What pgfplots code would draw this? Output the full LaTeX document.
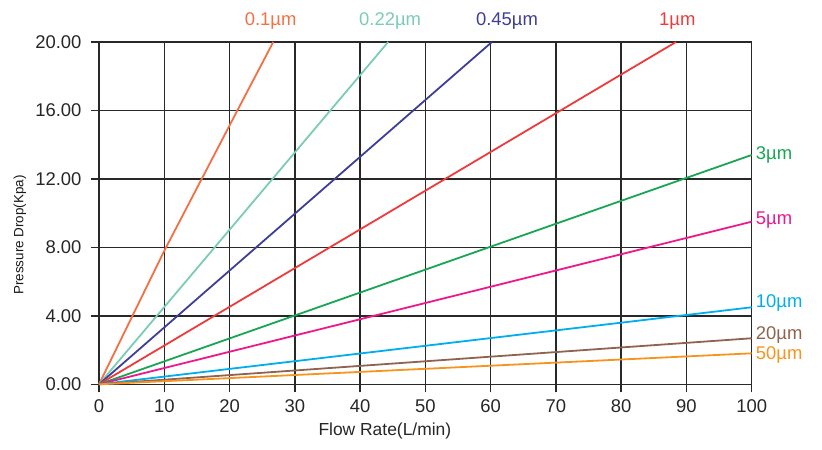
\documentclass[border=0pt]{standalone}
\usepackage{pgfplots}
\pgfplotsset{compat=1.18}
\usepackage{fontspec}
\setmainfont{Liberation Sans}

\definecolor{c01}{RGB}{244,112,68}
\definecolor{c022}{RGB}{122,204,182}
\definecolor{c045}{RGB}{62,62,152}
\definecolor{c1}{RGB}{238,58,58}
\definecolor{c3}{RGB}{24,166,82}
\definecolor{c5}{RGB}{236,24,142}
\definecolor{c10}{RGB}{0,174,239}
\definecolor{c20}{RGB}{142,100,80}
\definecolor{c50}{RGB}{247,148,29}
\definecolor{gridc}{RGB}{40,40,40}

\begin{document}
\begin{tikzpicture}
\begin{axis}[
  scale only axis,
  width=652.7bp, height=342.3bp,
  xmin=0, xmax=100, ymin=0, ymax=20,
  xtick={0,10,...,100},
  ytick={0,4,8,12,16,20},
  grid=major,
  grid style={gridc, line width=1.5bp},
  axis line style={gridc, line width=1.5bp},
  tick style={gridc, line width=1.5bp},
  tick align=outside,
  major tick length=8bp,
  xtick pos=bottom, ytick pos=left,
  /pgf/number format/assume math mode=true,
  yticklabel style={/pgf/number format/fixed, /pgf/number format/fixed zerofill,
    /pgf/number format/precision=2, xshift=-6bp},
  ticklabel style={font=\fontsize{18.5}{18.5}\selectfont, text=black!85},
  xticklabel style={yshift=-4bp},
  xlabel={Flow Rate(L/min)},
  ylabel={Pressure Drop(Kpa)},
  xlabel style={font=\fontsize{17.5}{17.5}\selectfont, text=black!85,
    at={(axis description cs:0.438,0)}, anchor=north, yshift=-35bp},
  ylabel style={font=\fontsize{13.5}{13.5}\selectfont, text=black!90,
    at={(axis description cs:-0.121,0.436)}, anchor=center},
  every axis plot/.append style={line width=1.8bp},
  clip=false,
]
\addplot[c01] coordinates {(0,0) (10,7.8) (21.2,16) (26.7,20)};
\addplot[c022] coordinates {(0,0) (44.3,20)};
\addplot[c045] coordinates {(0,0) (60.2,20)};
\addplot[c1] coordinates {(0,0) (88.4,20)};
\addplot[c3] coordinates {(0,0) (100,13.4)};
\addplot[c5] coordinates {(0,0) (100,9.5)};
\addplot[c10] coordinates {(0,0) (100,4.5)};
\addplot[c20] coordinates {(0,0) (100,2.69)};
\addplot[c50] coordinates {(0,0) (100,1.81)};

\begin{scope}[every node/.style={font=\fontsize{18.5}{18.5}\selectfont, inner sep=0pt}]
\node[c01, anchor=base] at (axis cs:26.3,20) [yshift=16bp] {0.1µm};
\node[c022, anchor=base] at (axis cs:44.6,20) [yshift=16bp] {0.22µm};
\node[c045, anchor=base] at (axis cs:62.5,20) [yshift=16bp] {0.45µm};
\node[c1, anchor=base] at (axis cs:88.6,20) [yshift=16bp] {1µm};
\node[c3, anchor=west] at (axis cs:100,13.4) [xshift=4bp] {3µm};
\node[c5, anchor=west] at (axis cs:100,9.6) [xshift=4bp] {5µm};
\node[c10, anchor=west] at (axis cs:100,4.74) [xshift=4bp] {10µm};
\node[c20, anchor=west] at (axis cs:100,2.88) [xshift=4bp] {20µm};
\node[c50, anchor=west] at (axis cs:100,1.71) [xshift=4bp] {50µm};
\end{scope}
\end{axis}
\useasboundingbox (-99bp,-65.7bp) rectangle (723bp,384.3bp);
\end{tikzpicture}
\end{document}
